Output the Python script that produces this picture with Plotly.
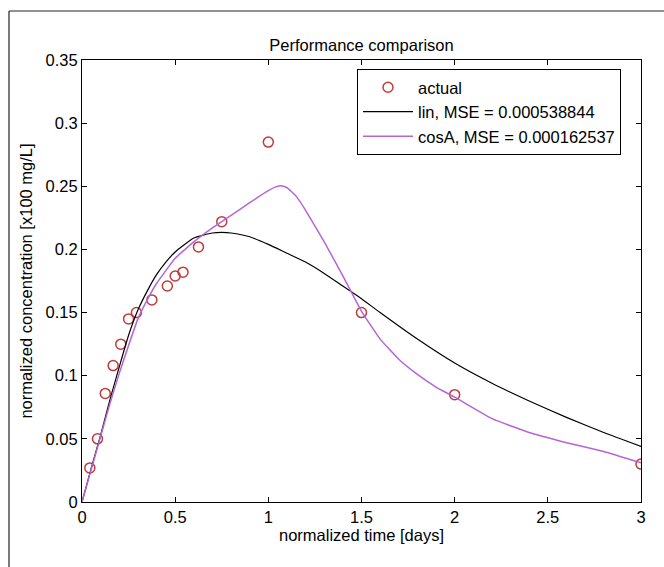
import plotly.graph_objects as go

# ---- data ----
actual_t = [0.042, 0.083, 0.125, 0.167, 0.208, 0.25, 0.292, 0.375, 0.458, 0.5,
            0.542, 0.625, 0.75, 1.0, 1.5, 2.0, 3.0]
actual_c = [0.027, 0.050, 0.086, 0.108, 0.125, 0.145, 0.150, 0.160, 0.171, 0.179,
            0.182, 0.202, 0.222, 0.285, 0.150, 0.085, 0.030]

lin_t = [0, 0.05, 0.1, 0.15, 0.2, 0.25, 0.3, 0.35, 0.4, 0.45, 0.5, 0.6, 0.7, 0.75,
         0.8, 0.9, 1.0, 1.1, 1.2, 1.3, 1.4, 1.5, 1.6, 1.8, 2.0, 2.2, 2.4, 2.6, 2.8, 3.0]
lin_c = [0.0, 0.027, 0.053, 0.081, 0.107, 0.132, 0.152, 0.167, 0.180, 0.190, 0.198,
         0.209, 0.213, 0.2135, 0.213, 0.210, 0.204, 0.197, 0.190, 0.181, 0.171, 0.161,
         0.150, 0.129, 0.110, 0.094, 0.080, 0.067, 0.055, 0.044]

cos_t = [0, 0.05, 0.1, 0.15, 0.2, 0.25, 0.3, 0.35, 0.4, 0.5, 0.6, 0.7, 0.8, 0.9,
         1.0, 1.04, 1.07, 1.1, 1.15, 1.2, 1.3, 1.4, 1.5, 1.6, 1.7, 1.8, 1.9, 2.0,
         2.2, 2.4, 2.6, 2.8, 3.0]
cos_c = [0.0, 0.026, 0.052, 0.078, 0.102, 0.124, 0.145, 0.160, 0.173, 0.193, 0.206,
         0.217, 0.227, 0.237, 0.2465, 0.2495, 0.2505, 0.249, 0.242, 0.231, 0.206, 0.179,
         0.151, 0.129, 0.113, 0.101, 0.091, 0.083, 0.066, 0.055, 0.047, 0.040, 0.031]

x_ticks = [0, 0.5, 1, 1.5, 2, 2.5, 3]
x_labels = ["0", "0.5", "1", "1.5", "2", "2.5", "3"]
y_ticks = [0, 0.05, 0.1, 0.15, 0.2, 0.25, 0.3, 0.35]
y_labels = ["0", "0.05", "0.1", "0.15", "0.2", "0.25", "0.3", "0.35"]

FONT = "Liberation Sans, Arial, sans-serif"
FS = 16.5

fig = go.Figure()
fig.add_trace(go.Scatter(
    x=actual_t, y=actual_c, mode="markers", name="actual",
    marker=dict(symbol="circle-open", size=10, color="#c23b3b", line=dict(width=1.5)),
))
fig.add_trace(go.Scatter(
    x=lin_t, y=lin_c, mode="lines", name="lin, MSE = 0.000538844",
    line=dict(color="black", width=1.2, shape="spline", smoothing=0.5),
))
fig.add_trace(go.Scatter(
    x=cos_t, y=cos_c, mode="lines", name="cosA, MSE = 0.000162537",
    line=dict(color="#b565d8", width=1.5, shape="spline", smoothing=0.3),
))

L, R, T, B = 82, 641, 60, 502
W, H = 664, 567

def px_x(p):
    return (p - L) / (R - L)

def px_y(p):
    return (B - p) / (B - T)

axis_common = dict(
    showgrid=False, zeroline=False, showline=True, linecolor="black", linewidth=1,
    mirror="ticks", ticks="inside", ticklen=5, tickcolor="black", tickwidth=1,
    tickfont=dict(family=FONT, size=FS, color="black"),
)

fig.update_layout(
    width=W, height=H,
    margin=dict(l=L, r=W - R, t=T, b=H - B),
    paper_bgcolor="white", plot_bgcolor="white",
    font=dict(family=FONT, size=FS, color="black"),
    title=dict(text="Performance comparison", x=(L + R) / 2 / W, xanchor="center",
               y=1 - 45 / H, yanchor="middle", font=dict(family=FONT, size=FS)),
    xaxis=dict(range=[0, 3], tickvals=x_ticks, ticktext=x_labels,
               title=dict(text="normalized time [days]", standoff=4,
                          font=dict(family=FONT, size=FS)),
               **axis_common),
    yaxis=dict(range=[0, 0.35], tickvals=y_ticks, ticktext=y_labels,
               title=dict(text="normalized concentration [x100 mg/L]", standoff=8,
                          font=dict(family=FONT, size=FS)),
               **axis_common),
    legend=dict(x=px_x(357), y=px_y(69), xanchor="left", yanchor="top",
                bgcolor="white", bordercolor="black", borderwidth=1,
                font=dict(family=FONT, size=FS), itemwidth=50, tracegroupgap=0),
    showlegend=True,
    shapes=[
        dict(type="line", xref="paper", yref="paper", x0=px_x(9), x1=px_x(W + 5),
             y0=px_y(11), y1=px_y(11), line=dict(color="#222", width=1.2)),
        dict(type="line", xref="paper", yref="paper", x0=px_x(9), x1=px_x(9),
             y0=px_y(11), y1=px_y(H + 5), line=dict(color="#222", width=1.2)),
    ],
)

fig.write_html("out.html")
